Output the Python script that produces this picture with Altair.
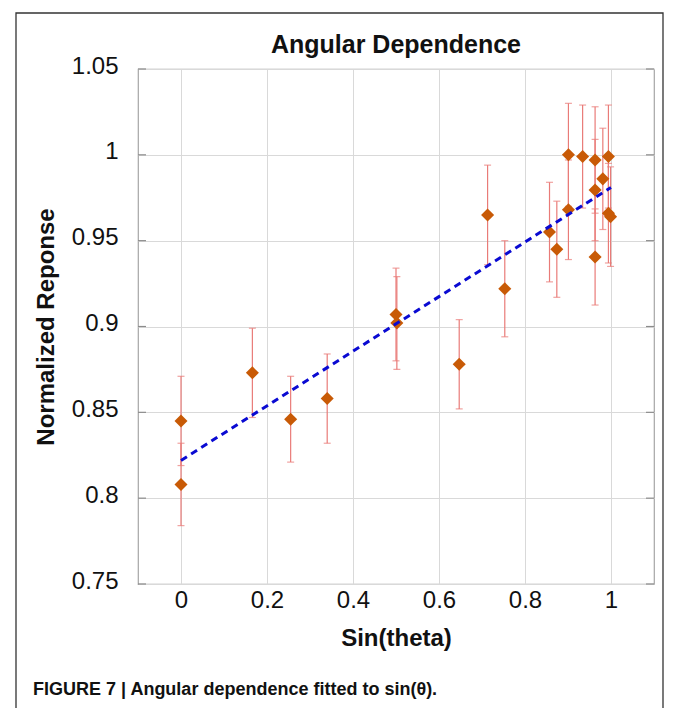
import altair as alt
import pandas as pd

# ---- data ----
sin_theta = [0.0, 0.0, 0.166, 0.255, 0.340, 0.500, 0.502, 0.647, 0.713, 0.753, 0.857,
             0.874, 0.901, 0.901, 0.934, 0.963, 0.963, 0.963, 0.981, 0.994, 0.994, 0.999]
response = [0.845, 0.808, 0.873, 0.846, 0.858, 0.907, 0.902, 0.878, 0.965, 0.922, 0.955,
            0.945, 1.000, 0.968, 0.999, 0.997, 0.9795, 0.9405, 0.986, 0.999, 0.966, 0.964]
errors = [0.026, 0.024, 0.026, 0.025, 0.026, 0.027, 0.027, 0.026, 0.029, 0.028, 0.029,
          0.028, 0.030, 0.029, 0.030, 0.031, 0.0295, 0.028, 0.0295, 0.030, 0.029, 0.029]

fit_x = [0.0, 1.0]
fit_y = [0.822, 0.981]

x_ticks = [0, 0.2, 0.4, 0.6, 0.8, 1]
y_ticks = [0.75, 0.8, 0.85, 0.9, 0.95, 1.0, 1.05]

title_text = "Angular Dependence"
x_title = "Sin(theta)"
y_title = "Normalized Reponse"
caption_text = "FIGURE 7 | Angular dependence fitted to sin(\u03b8)."

# ---- tables ----
df = pd.DataFrame({
    "x": sin_theta,
    "y": response,
    "lo": [r - e for r, e in zip(response, errors)],
    "hi": [r + e for r, e in zip(response, errors)],
})
fit_df = pd.DataFrame({"x": fit_x, "y": fit_y})
tick_df = pd.DataFrame({"v": y_ticks})
text_df = pd.DataFrame({"t": [title_text]})
cap_df = pd.DataFrame({"t": [caption_text]})

FONT = "Liberation Sans"
W, H = 516, 515
ERR = "#e97b78"
ORANGE = "#c85a06"
BLUE = "#0a0ad2"

xs = alt.Scale(domain=[-0.1, 1.1], nice=False, zero=False)
ys = alt.Scale(domain=[0.75, 1.05], nice=False, zero=False)

x_axis = alt.Axis(values=x_ticks, format="~g", grid=True, gridColor="#d9d9d9",
                  domain=False, ticks=False, labelFontSize=24, labelFont=FONT,
                  labelColor="#111", labelPadding=4,
                  titleFontSize=24, titleFont=FONT, titleFontWeight="bold",
                  titleColor="#111", titleX=W / 2, titleY=61,
                  titleAlign="center", titleBaseline="alphabetic")
y_axis = alt.Axis(values=y_ticks, format="~g", grid=True, gridColor="#d9d9d9",
                  domain=False, ticks=False, labelFontSize=24, labelFont=FONT,
                  labelColor="#111", labelPadding=20, labelOffset=-3,
                  titleFontSize=24, titleFont=FONT, titleFontWeight="bold",
                  titleColor="#111", titleAngle=270, titleX=-85, titleY=H / 2,
                  titleAlign="center", titleBaseline="alphabetic")


def X(field):
    return alt.X(field, type="quantitative", scale=xs, axis=x_axis, title=x_title)


def Y(field):
    return alt.Y(field, type="quantitative", scale=ys, axis=y_axis, title=y_title)


base = alt.Chart(df)

bars = base.mark_rule(color=ERR, strokeWidth=1.2).encode(
    x=X("x"), y=Y("lo"), y2="hi")
caps_lo = base.mark_tick(orient="horizontal", size=7, thickness=1.2, color=ERR).encode(
    x=X("x"), y=Y("lo"))
caps_hi = base.mark_tick(orient="horizontal", size=7, thickness=1.2, color=ERR).encode(
    x=X("x"), y=Y("hi"))
points = base.mark_point(shape="diamond", filled=True, size=170, color=ORANGE,
                         opacity=1).encode(x=X("x"), y=Y("y"))
fit = alt.Chart(fit_df).mark_line(color=BLUE, strokeWidth=3, strokeDash=[7, 5]).encode(
    x=X("x"), y=Y("y"))

tick_left = alt.Chart(tick_df).mark_rule(color="#8c8c8c", strokeWidth=1.2).encode(
    y=Y("v"), x=alt.value(0), x2=alt.value(8))
tick_right = alt.Chart(tick_df).mark_rule(color="#8c8c8c", strokeWidth=1.2).encode(
    y=Y("v"), x=alt.value(W - 8), x2=alt.value(W))

frame = alt.Chart(text_df).mark_rect(fill=None, stroke="#333", strokeWidth=1.3).encode(
    x=alt.value(-122), x2=alt.value(525), y=alt.value(-56), y2=alt.value(700))

title = alt.Chart(text_df).mark_text(fontSize=25, font=FONT, fontWeight="bold",
                                     color="#111", align="center",
                                     baseline="alphabetic").encode(
    x=alt.value(W / 2), y=alt.value(-16), text="t:N")

caption = alt.Chart(cap_df).mark_text(fontSize=18, font=FONT, fontWeight="bold",
                                      color="#111", align="left",
                                      baseline="alphabetic").encode(
    x=alt.value(-105), y=alt.value(626), text="t:N")

chart = alt.layer(
    frame, bars, caps_lo, caps_hi, points, fit, tick_left, tick_right, title, caption
).properties(
    width=W, height=H,
    padding={"left": 130, "top": 61, "right": 11, "bottom": 124},
    autosize="none",
).configure_view(stroke="#a6a6a6", strokeWidth=1.2)

chart.save("out.html", embed_options={"renderer": "svg", "actions": False})
